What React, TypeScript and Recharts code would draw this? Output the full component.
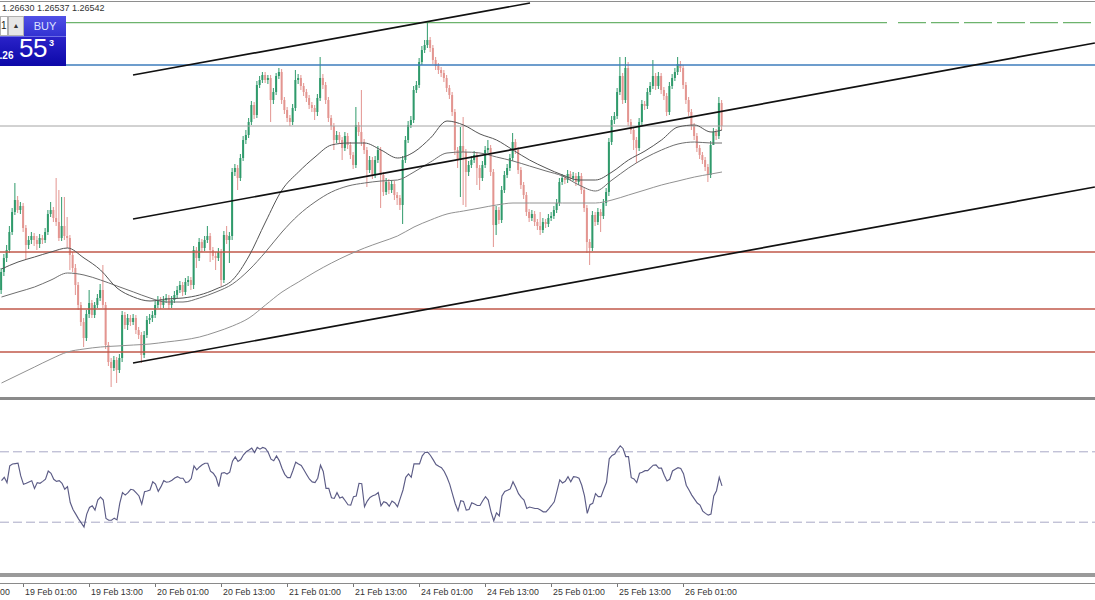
import React from 'react';
import { ComposedChart, Bar, Line, XAxis, YAxis, ReferenceLine } from 'recharts';

const W = 1095;
const FONT = '"Liberation Sans", Arial, sans-serif';

// half-hour candles, index 0 = 18 Feb 21:00
const opens = [
  1.26050, 1.26104, 1.26146, 1.26170, 1.26224, 1.26284, 1.26320, 1.26290, 1.26302, 1.26236,
  1.26185, 1.26200, 1.26212, 1.26200, 1.26188, 1.26206, 1.26200, 1.26224, 1.26278, 1.26290,
  1.26266, 1.26254, 1.26206, 1.26242, 1.26212, 1.26206, 1.26155, 1.26116, 1.26065, 1.26005,
  1.25954, 1.25906, 1.25978, 1.26011, 1.25975, 1.26005, 1.26026, 1.26050, 1.26005, 1.25885,
  1.25834, 1.25816, 1.25840, 1.25810, 1.25846, 1.25975, 1.25945, 1.25966, 1.25954, 1.25966,
  1.25930, 1.25915, 1.25855, 1.25915, 1.25960, 1.25966, 1.25975, 1.26005, 1.26020, 1.26005,
  1.26020, 1.26026, 1.26005, 1.26020, 1.26035, 1.26050, 1.26065, 1.26044, 1.26074, 1.26080,
  1.26065, 1.26170, 1.26146, 1.26194, 1.26176, 1.26200, 1.26212, 1.26170, 1.26152, 1.26146,
  1.26164, 1.26080, 1.26215, 1.26200, 1.26212, 1.26404, 1.26416, 1.26386, 1.26446, 1.26500,
  1.26515, 1.26554, 1.26605, 1.26575, 1.26665, 1.26680, 1.26695, 1.26680, 1.26686, 1.26620,
  1.26644, 1.26692, 1.26704, 1.26620, 1.26590, 1.26566, 1.26554, 1.26596, 1.26680, 1.26686,
  1.26662, 1.26644, 1.26626, 1.26605, 1.26596, 1.26584, 1.26626, 1.26686, 1.26665, 1.26620,
  1.26566, 1.26542, 1.26500, 1.26515, 1.26500, 1.26476, 1.26512, 1.26485, 1.26455, 1.26425,
  1.26545, 1.26524, 1.26494, 1.26470, 1.26410, 1.26440, 1.26395, 1.26440, 1.26470, 1.26395,
  1.26344, 1.26374, 1.26350, 1.26368, 1.26335, 1.26326, 1.26305, 1.26440, 1.26500, 1.26545,
  1.26560, 1.26650, 1.26665, 1.26734, 1.26770, 1.26785, 1.26800, 1.26776, 1.26740, 1.26722,
  1.26710, 1.26701, 1.26686, 1.26656, 1.26635, 1.26584, 1.26470, 1.26440, 1.26482, 1.26464,
  1.26404, 1.26425, 1.26440, 1.26455, 1.26416, 1.26386, 1.26425, 1.26470, 1.26476, 1.26404,
  1.26245, 1.26290, 1.26260, 1.26350, 1.26395, 1.26416, 1.26446, 1.26494, 1.26470, 1.26410,
  1.26365, 1.26335, 1.26284, 1.26266, 1.26278, 1.26254, 1.26242, 1.26230, 1.26254, 1.26248,
  1.26266, 1.26272, 1.26290, 1.26311, 1.26374, 1.26386, 1.26380, 1.26398, 1.26386, 1.26392,
  1.26374, 1.26392, 1.26350, 1.26296, 1.26194, 1.26176, 1.26275, 1.26254, 1.26284, 1.26272,
  1.26311, 1.26344, 1.26494, 1.26560, 1.26572, 1.26644, 1.26692, 1.26620, 1.26716, 1.26554,
  1.26530, 1.26500, 1.26476, 1.26554, 1.26608, 1.26602, 1.26644, 1.26662, 1.26692, 1.26662,
  1.26692, 1.26650, 1.26632, 1.26584, 1.26662, 1.26686, 1.26704, 1.26728, 1.26716, 1.26665,
  1.26620, 1.26584, 1.26542, 1.26512, 1.26476, 1.26455, 1.26440, 1.26419, 1.26395, 1.26485,
  1.26524, 1.26512, 1.26611,
];

const highs = [
  1.26116, 1.26158, 1.26185, 1.26242, 1.26296, 1.26371, 1.26332, 1.26314, 1.26311, 1.26245,
  1.26212, 1.26224, 1.26221, 1.26212, 1.26218, 1.26215, 1.26236, 1.26290, 1.26314, 1.26299,
  1.26386, 1.26350, 1.26329, 1.26329, 1.26269, 1.26215, 1.26164, 1.26128, 1.26074, 1.26014,
  1.25966, 1.25990, 1.26050, 1.26020, 1.26014, 1.26038, 1.26068, 1.26125, 1.26014, 1.25894,
  1.25846, 1.25852, 1.25849, 1.25858, 1.25987, 1.25984, 1.25978, 1.25975, 1.25978, 1.25975,
  1.25939, 1.25924, 1.25927, 1.25972, 1.25978, 1.25987, 1.26017, 1.26032, 1.26029, 1.26032,
  1.26038, 1.26035, 1.26032, 1.26047, 1.26062, 1.26077, 1.26074, 1.26086, 1.26092, 1.26089,
  1.26182, 1.26179, 1.26206, 1.26203, 1.26212, 1.26242, 1.26221, 1.26179, 1.26164, 1.26176,
  1.26173, 1.26227, 1.26242, 1.26224, 1.26416, 1.26428, 1.26425, 1.26458, 1.26512, 1.26530,
  1.26566, 1.26617, 1.26614, 1.26677, 1.26692, 1.26704, 1.26704, 1.26695, 1.26695, 1.26656,
  1.26701, 1.26716, 1.26713, 1.26629, 1.26599, 1.26575, 1.26608, 1.26710, 1.26698, 1.26695,
  1.26671, 1.26653, 1.26635, 1.26614, 1.26605, 1.26638, 1.26749, 1.26698, 1.26674, 1.26629,
  1.26575, 1.26551, 1.26527, 1.26524, 1.26509, 1.26524, 1.26521, 1.26494, 1.26464, 1.26599,
  1.26554, 1.26650, 1.26503, 1.26479, 1.26452, 1.26449, 1.26452, 1.26482, 1.26479, 1.26404,
  1.26386, 1.26383, 1.26380, 1.26377, 1.26344, 1.26335, 1.26452, 1.26512, 1.26557, 1.26572,
  1.26662, 1.26677, 1.26746, 1.26782, 1.26800, 1.26854, 1.26809, 1.26785, 1.26749, 1.26731,
  1.26719, 1.26710, 1.26695, 1.26665, 1.26644, 1.26593, 1.26479, 1.26539, 1.26569, 1.26473,
  1.26437, 1.26452, 1.26467, 1.26464, 1.26425, 1.26437, 1.26482, 1.26500, 1.26485, 1.26413,
  1.26302, 1.26299, 1.26362, 1.26407, 1.26428, 1.26458, 1.26521, 1.26503, 1.26479, 1.26419,
  1.26374, 1.26344, 1.26293, 1.26290, 1.26287, 1.26263, 1.26284, 1.26266, 1.26263, 1.26278,
  1.26284, 1.26302, 1.26323, 1.26386, 1.26398, 1.26395, 1.26410, 1.26407, 1.26404, 1.26401,
  1.26404, 1.26401, 1.26359, 1.26305, 1.26203, 1.26287, 1.26284, 1.26296, 1.26293, 1.26323,
  1.26356, 1.26506, 1.26572, 1.26584, 1.26656, 1.26749, 1.26701, 1.26749, 1.26734, 1.26563,
  1.26539, 1.26509, 1.26566, 1.26620, 1.26617, 1.26656, 1.26674, 1.26740, 1.26701, 1.26704,
  1.26701, 1.26659, 1.26641, 1.26674, 1.26698, 1.26716, 1.26749, 1.26737, 1.26725, 1.26674,
  1.26629, 1.26593, 1.26551, 1.26521, 1.26485, 1.26464, 1.26449, 1.26428, 1.26497, 1.26536,
  1.26533, 1.26629, 1.26620,
];

const lows = [
  1.26038, 1.26092, 1.26134, 1.26161, 1.26215, 1.26275, 1.26281, 1.26278, 1.26224, 1.26140,
  1.26173, 1.26188, 1.26182, 1.26170, 1.26176, 1.26188, 1.26191, 1.26215, 1.26269, 1.26254,
  1.26242, 1.26197, 1.26197, 1.26200, 1.26176, 1.26110, 1.26104, 1.26035, 1.25990, 1.25942,
  1.25879, 1.25897, 1.25966, 1.25966, 1.25966, 1.25996, 1.26017, 1.25996, 1.25873, 1.25822,
  1.25759, 1.25807, 1.25771, 1.25801, 1.25834, 1.25933, 1.25930, 1.25942, 1.25945, 1.25918,
  1.25903, 1.25831, 1.25846, 1.25906, 1.25948, 1.25954, 1.25966, 1.25996, 1.25993, 1.25996,
  1.26011, 1.25993, 1.25996, 1.26011, 1.26026, 1.26041, 1.26032, 1.26035, 1.26062, 1.26050,
  1.26053, 1.26116, 1.26137, 1.26164, 1.26167, 1.26191, 1.26134, 1.26140, 1.26110, 1.26137,
  1.26062, 1.26071, 1.26188, 1.26131, 1.26200, 1.26392, 1.26350, 1.26377, 1.26437, 1.26488,
  1.26506, 1.26545, 1.26563, 1.26566, 1.26656, 1.26671, 1.26671, 1.26668, 1.26554, 1.26608,
  1.26635, 1.26683, 1.26608, 1.26578, 1.26554, 1.26542, 1.26545, 1.26587, 1.26668, 1.26650,
  1.26632, 1.26614, 1.26593, 1.26584, 1.26560, 1.26572, 1.26617, 1.26653, 1.26608, 1.26554,
  1.26530, 1.26470, 1.26491, 1.26488, 1.26440, 1.26467, 1.26473, 1.26443, 1.26413, 1.26416,
  1.26512, 1.26482, 1.26458, 1.26359, 1.26401, 1.26383, 1.26386, 1.26431, 1.26296, 1.26332,
  1.26335, 1.26338, 1.26341, 1.26320, 1.26305, 1.26290, 1.26248, 1.26431, 1.26491, 1.26536,
  1.26551, 1.26641, 1.26656, 1.26725, 1.26761, 1.26776, 1.26764, 1.26728, 1.26710, 1.26698,
  1.26689, 1.26674, 1.26644, 1.26623, 1.26572, 1.26455, 1.26416, 1.26329, 1.26305, 1.26299,
  1.26392, 1.26416, 1.26431, 1.26365, 1.26350, 1.26377, 1.26416, 1.26461, 1.26392, 1.26179,
  1.26215, 1.26248, 1.26251, 1.26341, 1.26386, 1.26407, 1.26437, 1.26458, 1.26398, 1.26353,
  1.26323, 1.26272, 1.26254, 1.26257, 1.26242, 1.26230, 1.26215, 1.26221, 1.26236, 1.26239,
  1.26257, 1.26263, 1.26281, 1.26302, 1.26365, 1.26368, 1.26371, 1.26377, 1.26377, 1.26362,
  1.26365, 1.26338, 1.26284, 1.26161, 1.26125, 1.26167, 1.26242, 1.26245, 1.26224, 1.26263,
  1.26302, 1.26332, 1.26485, 1.26548, 1.26563, 1.26635, 1.26608, 1.26611, 1.26542, 1.26518,
  1.26470, 1.26431, 1.26467, 1.26545, 1.26590, 1.26593, 1.26635, 1.26653, 1.26650, 1.26653,
  1.26638, 1.26620, 1.26572, 1.26575, 1.26653, 1.26677, 1.26695, 1.26704, 1.26653, 1.26608,
  1.26572, 1.26530, 1.26500, 1.26464, 1.26443, 1.26428, 1.26407, 1.26374, 1.26386, 1.26512,
  1.26500, 1.26503, 1.26530,
];

const closes = [
  1.26104, 1.26146, 1.26170, 1.26224, 1.26284, 1.26320, 1.26290, 1.26302, 1.26236, 1.26185,
  1.26200, 1.26212, 1.26200, 1.26188, 1.26206, 1.26200, 1.26224, 1.26278, 1.26290, 1.26266,
  1.26254, 1.26206, 1.26242, 1.26212, 1.26206, 1.26155, 1.26116, 1.26065, 1.26005, 1.25954,
  1.25906, 1.25978, 1.26011, 1.25975, 1.26005, 1.26026, 1.26050, 1.26005, 1.25885, 1.25834,
  1.25816, 1.25840, 1.25810, 1.25846, 1.25975, 1.25945, 1.25966, 1.25954, 1.25966, 1.25930,
  1.25915, 1.25855, 1.25915, 1.25960, 1.25966, 1.25975, 1.26005, 1.26020, 1.26005, 1.26020,
  1.26026, 1.26005, 1.26020, 1.26035, 1.26050, 1.26065, 1.26044, 1.26074, 1.26080, 1.26065,
  1.26170, 1.26146, 1.26194, 1.26176, 1.26200, 1.26212, 1.26170, 1.26152, 1.26146, 1.26164,
  1.26080, 1.26215, 1.26200, 1.26212, 1.26404, 1.26416, 1.26386, 1.26446, 1.26500, 1.26515,
  1.26554, 1.26605, 1.26575, 1.26665, 1.26680, 1.26695, 1.26680, 1.26686, 1.26620, 1.26644,
  1.26692, 1.26704, 1.26620, 1.26590, 1.26566, 1.26554, 1.26596, 1.26680, 1.26686, 1.26662,
  1.26644, 1.26626, 1.26605, 1.26596, 1.26584, 1.26626, 1.26686, 1.26665, 1.26620, 1.26566,
  1.26542, 1.26500, 1.26515, 1.26500, 1.26476, 1.26512, 1.26485, 1.26455, 1.26425, 1.26545,
  1.26524, 1.26494, 1.26470, 1.26410, 1.26440, 1.26395, 1.26440, 1.26470, 1.26395, 1.26344,
  1.26374, 1.26350, 1.26368, 1.26335, 1.26326, 1.26305, 1.26440, 1.26500, 1.26545, 1.26560,
  1.26650, 1.26665, 1.26734, 1.26770, 1.26785, 1.26800, 1.26776, 1.26740, 1.26722, 1.26710,
  1.26701, 1.26686, 1.26656, 1.26635, 1.26584, 1.26470, 1.26440, 1.26482, 1.26464, 1.26404,
  1.26425, 1.26440, 1.26455, 1.26416, 1.26386, 1.26425, 1.26470, 1.26476, 1.26404, 1.26245,
  1.26290, 1.26260, 1.26350, 1.26395, 1.26416, 1.26446, 1.26494, 1.26470, 1.26410, 1.26365,
  1.26335, 1.26284, 1.26266, 1.26278, 1.26254, 1.26242, 1.26230, 1.26254, 1.26248, 1.26266,
  1.26272, 1.26290, 1.26311, 1.26374, 1.26386, 1.26380, 1.26398, 1.26386, 1.26392, 1.26374,
  1.26392, 1.26350, 1.26296, 1.26194, 1.26176, 1.26275, 1.26254, 1.26284, 1.26272, 1.26311,
  1.26344, 1.26494, 1.26560, 1.26572, 1.26644, 1.26692, 1.26620, 1.26716, 1.26554, 1.26530,
  1.26500, 1.26476, 1.26554, 1.26608, 1.26602, 1.26644, 1.26662, 1.26692, 1.26662, 1.26692,
  1.26650, 1.26632, 1.26584, 1.26662, 1.26686, 1.26704, 1.26728, 1.26716, 1.26665, 1.26620,
  1.26584, 1.26542, 1.26512, 1.26476, 1.26455, 1.26440, 1.26419, 1.26395, 1.26485, 1.26524,
  1.26512, 1.26611, 1.26542,
];

// moving averages, read every 6 candles
const maIndex = [
  0, 6, 12, 18, 24, 30, 36, 42, 48, 54, 60, 66, 72, 78, 84, 90, 96, 102, 108, 114, 120, 126,
  132, 138, 144, 150, 156, 162, 168, 174, 180, 186, 192, 198, 204, 210, 216, 222, 228, 234,
  240, 246, 252, 258, 262,
];
const maFast = [
  1.26113, 1.26134, 1.26149, 1.26164, 1.26176, 1.26146, 1.26110, 1.26056, 1.26029, 1.26017,
  1.26023, 1.26026, 1.26035, 1.26053, 1.26080, 1.26152, 1.26254, 1.26350, 1.26404, 1.26449,
  1.26485, 1.26491, 1.26491, 1.26470, 1.26446, 1.26464, 1.26506, 1.26557, 1.26545, 1.26518,
  1.26500, 1.26470, 1.26440, 1.26416, 1.26395, 1.26380, 1.26380, 1.26404, 1.26440, 1.26467,
  1.26500, 1.26539, 1.26545, 1.26524, 1.26530,
];
const maMid = [
  1.26029, 1.26044, 1.26059, 1.26080, 1.26101, 1.26095, 1.26080, 1.26062, 1.26044, 1.26026,
  1.26014, 1.26014, 1.26026, 1.26044, 1.26068, 1.26110, 1.26164, 1.26224, 1.26275, 1.26314,
  1.26344, 1.26362, 1.26371, 1.26377, 1.26380, 1.26404, 1.26434, 1.26461, 1.26464, 1.26461,
  1.26449, 1.26437, 1.26422, 1.26407, 1.26392, 1.26365, 1.26347, 1.26380, 1.26416, 1.26446,
  1.26470, 1.26488, 1.26494, 1.26491, 1.26491,
];
const maSlow = [
  1.25771, 1.25795, 1.25819, 1.25843, 1.25864, 1.25873, 1.25879, 1.25882, 1.25885, 1.25888,
  1.25894, 1.25900, 1.25909, 1.25924, 1.25942, 1.25966, 1.26005, 1.26044, 1.26074, 1.26104,
  1.26131, 1.26155, 1.26176, 1.26194, 1.26212, 1.26239, 1.26260, 1.26278, 1.26287, 1.26296,
  1.26305, 1.26311, 1.26311, 1.26311, 1.26311, 1.26311, 1.26311, 1.26320, 1.26335, 1.26350,
  1.26365, 1.26377, 1.26389, 1.26398, 1.26404,
];

const rsiValues = [
  53.6, 55.5, 52.5, 62.0, 63.1, 63.3, 63.5, 56.3, 51.5, 52.1,
  52.9, 53.6, 49.2, 52.5, 52.1, 53.2, 54.4, 59.1, 57.8, 54.4,
  53.2, 53.6, 52.1, 48.7, 50.2, 41.2, 37.2, 34.6, 31.9, 29.6,
  27.3, 34.6, 38.4, 39.3, 36.9, 42.6, 44.3, 42.6, 32.1, 31.1,
  31.1, 32.3, 31.3, 40.7, 46.8, 45.4, 46.8, 48.7, 48.3, 46.6,
  44.9, 40.3, 47.3, 47.7, 48.3, 53.0, 51.7, 47.5, 50.2, 53.6,
  52.7, 53.0, 53.8, 55.1, 55.9, 55.0, 55.0, 52.5, 53.0, 54.8,
  62.0, 59.7, 61.4, 62.6, 63.5, 63.5, 59.0, 57.8, 55.5, 50.2,
  57.8, 58.2, 57.4, 58.4, 64.7, 67.1, 64.5, 65.6, 68.3, 70.0,
  71.0, 72.1, 69.6, 72.5, 71.5, 72.5, 71.9, 69.6, 65.8, 64.9,
  67.7, 65.0, 60.7, 57.2, 55.3, 55.3, 59.5, 64.1, 63.1, 62.2,
  59.7, 57.0, 54.4, 52.9, 52.5, 55.0, 62.4, 58.8, 49.2, 49.2,
  43.9, 43.5, 46.8, 43.7, 44.3, 42.2, 39.9, 39.7, 44.5, 44.9,
  52.1, 51.9, 38.8, 42.0, 44.1, 45.0, 45.6, 46.8, 39.3, 41.6,
  41.0, 39.1, 42.0, 40.9, 38.8, 43.5, 48.3, 55.5, 57.4, 55.5,
  63.1, 63.1, 63.1, 67.7, 69.6, 69.8, 67.9, 65.4, 62.8, 61.8,
  61.0, 58.8, 55.5, 51.5, 46.0, 40.5, 36.5, 42.2, 41.8, 36.9,
  37.2, 41.0, 40.3, 39.5, 39.5, 42.2, 44.5, 42.6, 35.9, 30.8,
  35.3, 33.6, 44.9, 47.5, 48.1, 48.9, 53.0, 49.8, 46.2, 44.1,
  42.6, 37.8, 38.6, 38.2, 37.8, 37.8, 36.9, 35.9, 35.9, 37.6,
  39.5, 41.6, 47.7, 54.0, 52.3, 53.2, 55.9, 53.0, 55.9, 55.7,
  55.0, 51.0, 44.9, 35.0, 39.9, 40.7, 46.2, 44.5, 44.5, 48.7,
  52.7, 66.0, 67.9, 68.7, 71.3, 73.4, 71.9, 67.3, 67.3, 55.3,
  54.6, 52.5, 57.8, 58.4, 59.3, 59.3, 60.9, 62.4, 62.6, 60.7,
  60.7, 56.7, 53.4, 54.4, 59.1, 60.1, 61.0, 60.5, 57.6, 51.0,
  48.3, 45.4, 43.1, 40.9, 39.7, 36.3, 35.0, 34.0, 34.6, 44.9,
  47.9, 55.5, 50.6,
];

const timeTicks = [8, 32, 56, 80, 104, 128, 152, 176, 200, 224, 248];
const timeLabels = [
  '19 Feb 01:00', '19 Feb 13:00', '20 Feb 01:00', '20 Feb 13:00', '21 Feb 01:00', '21 Feb 13:00',
  '24 Feb 01:00', '24 Feb 13:00', '25 Feb 01:00', '25 Feb 13:00', '26 Feb 01:00',
];

// horizontal levels
const greenLevel = 1.26852;
const blueLevel = 1.26725;
const bidLevel = 1.26542;
const redLevels = [1.26164, 1.25993, 1.25864];

// channel trendlines: [startIndex, startPrice, endIndex, endPrice]
const channelTop = [47.82, 1.26695, 192.18, 1.26911];
const channelMid = [47.82, 1.26263, 397.6, 1.26791];
const channelLow = [47.82, 1.25831, 397.6, 1.26359];

const X_DOMAIN: [number, number] = [-0.5455, 397.636];
const PRICE_DOMAIN: [number, number] = [1.25726, 1.2692];

const candles = closes.map((close, i) => ({
  k: i,
  open: opens[i],
  close,
  high: highs[i],
  low: lows[i],
  range: [lows[i], highs[i]],
}));

const maData = maIndex.map((k, i) => ({ k, fast: maFast[i], mid: maMid[i], slow: maSlow[i] }));

const rsiData = rsiValues.map((v, i) => ({ k: i, v }));

const Candle = (props: any) => {
  const { x, y, width, height } = props;
  const p = props.payload || props;
  if (x == null || y == null || height == null) return null;
  const top = Math.min(y, y + height);
  const h = Math.abs(height);
  const span = p.high - p.low || 1e-9;
  const py = (v: number) => top + ((p.high - v) / span) * h;
  const up = p.close >= p.open;
  const color = up ? '#2f9a6b' : '#e39590';
  const cx = x + width / 2;
  const b1 = py(Math.max(p.open, p.close));
  const b2 = py(Math.min(p.open, p.close));
  return (
    <g>
      <line x1={cx} x2={cx} y1={top} y2={top + h} stroke={color} strokeWidth={1} />
      <rect x={cx - 1} y={b1} width={2} height={Math.max(1, b2 - b1)} fill={color} />
    </g>
  );
};

const TimeTick = (props: any) => {
  const { x, payload } = props;
  const idx = timeTicks.indexOf(payload.value);
  if (idx < 0) return null;
  return (
    <g>
      <line x1={x} x2={x} y1={184} y2={188} stroke="#777" />
      <text x={x + 1.5} y={196} fontSize={8.8} fill="#333" fontFamily={FONT}>
        {timeLabels[idx]}
      </text>
    </g>
  );
};

const seg = (c: number[]) => [
  { x: c[0], y: c[1] },
  { x: c[2], y: c[3] },
];

export default function App() {
  return (
    <div
      style={{
        position: 'absolute',
        left: 0,
        top: 0,
        width: W,
        height: 600,
        background: '#fff',
        overflow: 'hidden',
        fontFamily: FONT,
      }}
    >
      {/* price panel */}
      <div style={{ position: 'absolute', left: 0, top: 0 }}>
        <ComposedChart width={W} height={398} data={candles} margin={{ top: 0, right: 0, bottom: 0, left: 0 }}>
          <XAxis dataKey="k" type="number" domain={X_DOMAIN} allowDataOverflow hide />
          <YAxis type="number" domain={PRICE_DOMAIN} allowDataOverflow hide />
          <ReferenceLine segment={[{ x: X_DOMAIN[0], y: greenLevel }, { x: 322, y: greenLevel }]} stroke="#6db36d" strokeWidth={1.2} ifOverflow="visible" />
          <ReferenceLine segment={[{ x: 326, y: greenLevel }, { x: 397.6, y: greenLevel }]} stroke="#6db36d" strokeWidth={1.2} strokeDasharray="28 5" ifOverflow="visible" />
          <ReferenceLine y={blueLevel} stroke="#3c7dbd" strokeWidth={1.4} />
          <ReferenceLine y={bidLevel} stroke="#a4a4a4" strokeWidth={1} />
          {redLevels.map((lv) => (
            <ReferenceLine key={lv} y={lv} stroke="#c0584a" strokeWidth={1.5} />
          ))}
          <Line data={maData} dataKey="slow" type="monotone" stroke="#929292" strokeWidth={1} dot={false} activeDot={false} isAnimationActive={false} />
          <Line data={maData} dataKey="mid" type="monotone" stroke="#6e6e6e" strokeWidth={1} dot={false} activeDot={false} isAnimationActive={false} />
          <Line data={maData} dataKey="fast" type="monotone" stroke="#555555" strokeWidth={1} dot={false} activeDot={false} isAnimationActive={false} />
          <Bar dataKey="range" barSize={2} shape={<Candle />} isAnimationActive={false} />
          <ReferenceLine segment={seg(channelTop)} stroke="#111" strokeWidth={1.7} ifOverflow="visible" />
          <ReferenceLine segment={seg(channelMid)} stroke="#111" strokeWidth={1.7} ifOverflow="visible" />
          <ReferenceLine segment={seg(channelLow)} stroke="#111" strokeWidth={1.7} ifOverflow="visible" />
        </ComposedChart>
      </div>

      {/* RSI panel with time axis */}
      <div style={{ position: 'absolute', left: 0, top: 399 }}>
        <ComposedChart width={W} height={201} data={rsiData} margin={{ top: 0, right: 0, bottom: 0, left: 0 }}>
          <XAxis
            dataKey="k"
            type="number"
            domain={X_DOMAIN}
            allowDataOverflow
            ticks={timeTicks}
            interval={0}
            height={25}
            axisLine={false}
            tickLine={false}
            tick={<TimeTick />}
          />
          <YAxis type="number" domain={[0, 100]} allowDataOverflow hide />
          <ReferenceLine y={70} stroke="#a9a9c6" strokeDasharray="9 4" strokeWidth={1} />
          <ReferenceLine y={30} stroke="#a9a9c6" strokeDasharray="9 4" strokeWidth={1} />
          <Line dataKey="v" type="linear" stroke="#5c5c86" strokeWidth={1.15} dot={false} activeDot={false} isAnimationActive={false} />
        </ComposedChart>
      </div>

      {/* window frame lines */}
      <div style={{ position: 'absolute', left: 0, top: 1, width: W, height: 1, background: '#8e8e8e' }} />
      <div style={{ position: 'absolute', left: 0, top: 397, width: W, height: 3, background: '#8a8a8a' }} />
      <div style={{ position: 'absolute', left: 0, top: 573, width: W, height: 4, background: '#9a9a9a' }} />
      <div style={{ position: 'absolute', left: 0, top: 583, width: W, height: 1, background: '#8a8a8a' }} />
      <div style={{ position: 'absolute', left: -42, top: 587, fontSize: 8.8, color: '#333', whiteSpace: 'nowrap' }}>18 Feb 13:00</div>

      {/* quote line */}
      <div style={{ position: 'absolute', left: 2, top: 3, fontSize: 9, color: '#333', whiteSpace: 'nowrap' }}>
        1.26630 1.26537 1.26542
      </div>

      {/* one-click trading panel */}
      <div style={{ position: 'absolute', left: 0, top: 16, width: 66, height: 50, overflow: 'hidden' }}>
        <div style={{ position: 'absolute', left: 0, top: 0, width: 8, height: 20, background: '#fff', border: '1px solid #b0b0b0', boxSizing: 'border-box' }}>
          <span style={{ position: 'absolute', left: 0, top: 3, fontSize: 10, color: '#222' }}>1</span>
        </div>
        <div style={{ position: 'absolute', left: 8, top: 0, width: 16, height: 20, background: '#e6e6e6', border: '1px solid #b0b0b0', boxSizing: 'border-box', fontSize: 7, color: '#333', textAlign: 'center', lineHeight: '18px' }}>
          ▲
        </div>
        <div style={{ position: 'absolute', left: 24, top: 0, width: 42, height: 20, background: 'linear-gradient(#5050e6, #3232d2)', color: '#dfe3ff', fontSize: 11, textAlign: 'center', lineHeight: '20px' }}>
          BUY
        </div>
        <div style={{ position: 'absolute', left: 0, top: 20, width: 66, height: 30, background: 'linear-gradient(#2a22c8, #0c08a8)', borderTop: '1px solid #6f6fe6', boxSizing: 'border-box' }}>
          <span style={{ position: 'absolute', left: -6, top: 13, fontSize: 10, fontWeight: 'bold', color: '#fff' }}>1.26</span>
          <span style={{ position: 'absolute', left: 19, top: -4, fontSize: 26, color: '#fff', letterSpacing: -0.5 }}>55</span>
          <span style={{ position: 'absolute', left: 49, top: 1, fontSize: 9, fontWeight: 'bold', color: '#fff' }}>3</span>
        </div>
      </div>
    </div>
  );
}
